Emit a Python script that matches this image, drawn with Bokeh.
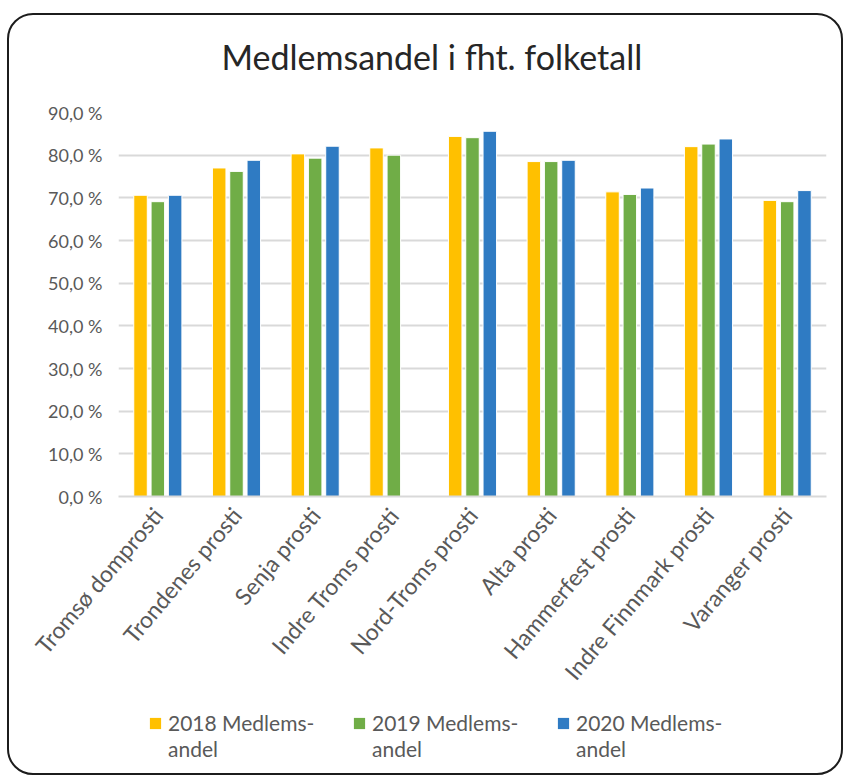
from bokeh.plotting import figure
from bokeh.layouts import column
from bokeh.models import (FactorRange, Range1d, FixedTicker, CustomJSTickFormatter,
                          Legend, LegendItem, ColumnDataSource, InlineStyleSheet)
from bokeh.transform import dodge
from bokeh.embed import file_html
from bokeh.resources import INLINE

categories = ["Tromsø domprosti", "Trondenes prosti", "Senja prosti",
              "Indre Troms prosti", "Nord-Troms prosti", "Alta prosti",
              "Hammerfest prosti", "Indre Finnmark prosti", "Varanger prosti"]
v2018 = [70.6, 77.0, 80.3, 81.7, 84.4, 78.5, 71.4, 82.0, 69.4]
v2019 = [69.1, 76.2, 79.3, 80.0, 84.1, 78.5, 70.8, 82.6, 69.1]
v2020 = [70.6, 78.8, 82.1, float("nan"), 85.6, 78.8, 72.3, 83.8, 71.7]
legend_line1 = ["2018 Medlems-", "2019 Medlems-", "2020 Medlems-"]
legend_line2 = ["andel", "andel", "andel"]
colors = ["#FFC000", "#70AD47", "#2F7BC3"]
y_ticks = [0, 10, 20, 30, 40, 50, 60, 70, 80, 90]

FONT = "Lato"
TXT = "#595959"

src = ColumnDataSource(dict(cat=categories, a=v2018, b=v2019, c=v2020))
cols = ["a", "b", "c"]
offsets = [-0.22, 0.0, 0.22]

frame_css = InlineStyleSheet(css="""
:host::after {
  content: "";
  position: absolute;
  left: 0px; top: 16px; right: 0px; bottom: -14px;
  border: 2px solid #1c1c1c;
  border-radius: 26px;
  pointer-events: none;
  box-sizing: border-box;
}
""")

# ---- main chart ----
p = figure(x_range=FactorRange(*categories, range_padding=0),
           y_range=Range1d(0, 90),
           width=836, height=704,
           output_backend="svg", toolbar_location=None,
           min_border_left=111, min_border_right=17,
           min_border_top=113, min_border_bottom=205)

p.title.text = "Medlemsandel i fht. folketall"
p.title.text_font = FONT
p.title.text_font_size = "34px"
p.title.text_font_style = "normal"
p.title.text_color = "#262626"
p.title.align = "left"
p.title.offset = 103
p.title.standoff = 72

p.outline_line_color = None
p.background_fill_color = "white"
p.border_fill_color = "white"

for i in range(3):
    p.vbar(x=dodge("cat", offsets[i], range=p.x_range), top=cols[i], width=0.172,
           source=src, fill_color=colors[i], line_color="white", line_width=1)

p.ygrid.ticker = FixedTicker(ticks=y_ticks)
p.ygrid.grid_line_color = "#d9d9d9"
p.ygrid.grid_line_width = 2
p.xgrid.grid_line_color = None

p.yaxis.ticker = FixedTicker(ticks=y_ticks)
p.yaxis.formatter = CustomJSTickFormatter(code="return tick.toFixed(1).replace('.', ',') + ' %';")
p.yaxis.axis_line_color = None
p.yaxis.major_tick_line_color = None
p.yaxis.minor_tick_line_color = None
p.yaxis.major_label_text_font = FONT
p.yaxis.major_label_text_font_size = "18px"
p.yaxis.major_label_text_color = TXT
p.yaxis.major_label_standoff = 10

p.xaxis.axis_line_color = "#d9d9d9"
p.xaxis.axis_line_width = 2
p.xaxis.major_tick_line_color = None
p.xaxis.minor_tick_line_color = None
p.xaxis.major_label_orientation = 0.87
p.xaxis.major_label_text_font = FONT
p.xaxis.major_label_text_font_size = "23px"
p.xaxis.major_label_text_color = TXT
p.xaxis.major_label_standoff = 8

# ---- legend strip (same series, y window above the data so only legend shows) ----
q = figure(x_range=p.x_range, y_range=Range1d(100, 101),
           width=836, height=60, output_backend="svg", toolbar_location=None,
           x_axis_type=None, y_axis_type=None,
           min_border_left=111, min_border_right=17, min_border_top=0, min_border_bottom=0)
q.outline_line_color = None
q.grid.visible = False
q.background_fill_color = "white"
q.border_fill_color = "white"

sw, blank = [], []
for i in range(3):
    sw.append(q.vbar(x=dodge("cat", offsets[i], range=q.x_range), top=cols[i], width=0.172,
                     source=src, fill_color=colors[i], line_color=None))
    blank.append(q.vbar(x=dodge("cat", offsets[i], range=q.x_range), top=cols[i], width=0.172,
                        source=src, fill_alpha=0, line_alpha=0))

common = dict(orientation="horizontal", glyph_width=14, glyph_height=14, label_standoff=6,
              label_width=160, spacing=24, padding=0, margin=0,
              border_line_color=None, background_fill_alpha=0,
              label_text_font=FONT, label_text_font_size="21px", label_text_color=TXT)
leg1 = Legend(items=[LegendItem(label=legend_line1[i], renderers=[sw[i]]) for i in range(3)],
              location=(30, 26), **common)
leg2 = Legend(items=[LegendItem(label=legend_line2[i], renderers=[blank[i]]) for i in range(3)],
              location=(30, 0), **common)
q.add_layout(leg1, "center")
q.add_layout(leg2, "center")

layout = column(p, q, spacing=0,
                styles={"position": "relative", "margin-left": "7px", "margin-top": "-3px"},
                stylesheets=[frame_css])

open("out.html", "w").write(file_html(layout, INLINE))
